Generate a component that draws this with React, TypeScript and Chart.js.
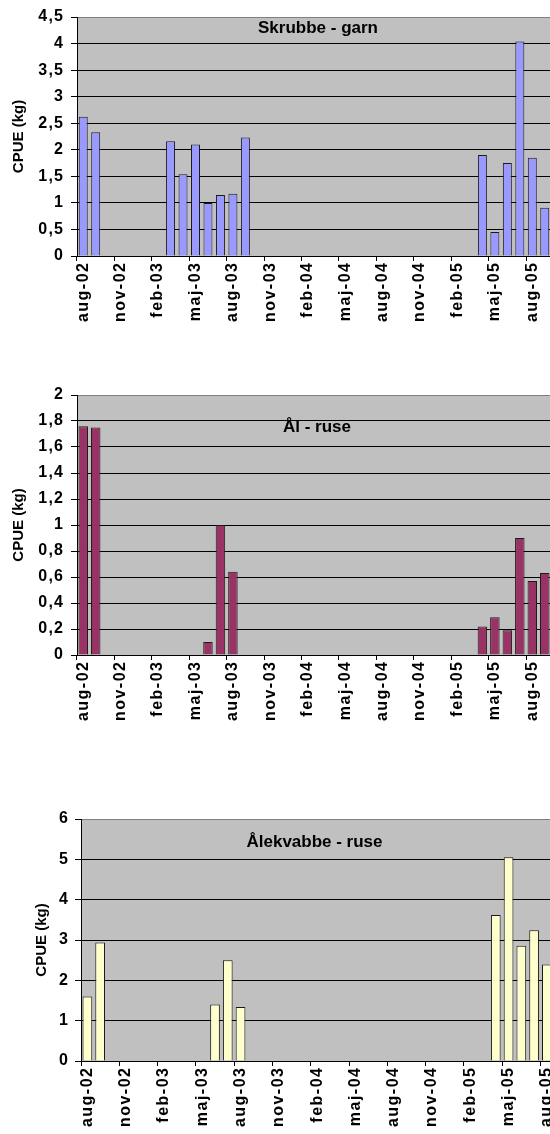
import React, { useEffect, useRef } from "react";
import { Chart, registerables } from "chart.js";

Chart.register(...registerables);

// Monthly categories (Danish month abbreviations)
const months = [
  "aug-02", "sep-02", "okt-02", "nov-02", "dec-02", "jan-03", "feb-03", "mar-03",
  "apr-03", "maj-03", "jun-03", "jul-03", "aug-03", "sep-03", "okt-03", "nov-03",
  "dec-03", "jan-04", "feb-04", "mar-04", "apr-04", "maj-04", "jun-04", "jul-04",
  "aug-04", "sep-04", "okt-04", "nov-04", "dec-04", "jan-05", "feb-05", "mar-05",
  "apr-05", "maj-05", "jun-05", "jul-05", "aug-05", "sep-05",
];
const labelEvery = 3;

const skrubbeGarn = [
  2.62, 2.33, null, null, null, null, null, 2.16,
  1.54, 2.1, 1.0, 1.15, 1.17, 2.23, null, null,
  null, null, null, null, null, null, null, null,
  null, null, null, null, null, null, null, null,
  1.9, 0.45, 1.75, 4.04, 1.85, 0.91,
];

const aalRuse = [
  1.76, 1.75, null, null, null, null, null, null,
  null, null, 0.1, 1.0, 0.64, null, null, null,
  null, null, null, null, null, null, null, null,
  null, null, null, null, null, null, null, null,
  0.22, 0.29, 0.19, 0.9, 0.57, 0.63,
];

const aalekvabbeRuse = [
  1.6, 2.94, null, null, null, null, null, null,
  null, null, 1.4, 2.5, 1.34, null, null, null,
  null, null, null, null, null, null, null, null,
  null, null, null, null, null, null, null, null,
  3.62, 5.05, 2.86, 3.24, 2.39, null,
];

const yAxisTitle = "CPUE (kg)";
const FONT = "'Liberation Sans', Arial, sans-serif";

function fmt(v: number) {
  return String(Math.round(v * 10) / 10).replace(".", ",");
}

const bgPlugin = {
  id: "plotBg",
  beforeDraw(chart: any) {
    const { ctx, chartArea } = chart;
    ctx.save();
    ctx.fillStyle = "#C0C0C0";
    ctx.fillRect(chartArea.left, chartArea.top, chartArea.right - chartArea.left, chartArea.bottom - chartArea.top);
    ctx.restore();
  },
};

const insideTitlePlugin = {
  id: "insideTitle",
  afterDatasetsDraw(chart: any, _args: any, opts: any) {
    const { ctx, chartArea } = chart;
    ctx.save();
    ctx.font = `bold ${opts.size}px ${FONT}`;
    ctx.fillStyle = "#000";
    ctx.textAlign = "center";
    ctx.textBaseline = "middle";
    ctx.fillText(opts.text, (chartArea.left + chartArea.right) / 2 + opts.dx, chartArea.top + opts.dy);
    ctx.restore();
  },
};

// Draws the tick labels (wide bold text) at the positions given by the chart's scales.
const tickLabelPlugin = {
  id: "wideTickLabels",
  afterDraw(chart: any, _args: any, o: any) {
    const { ctx } = chart;
    const xs = chart.scales.x;
    const ys = chart.scales.y;
    ctx.save();
    ctx.fillStyle = "#000";
    ctx.font = `bold ${o.size}px ${FONT}`;
    ctx.letterSpacing = `${o.spacingY}px`;
    ctx.textAlign = "right";
    ctx.textBaseline = "middle";
    ys.ticks.forEach((t: any, i: number) => {
      ctx.fillText(fmt(t.value), ys.right - o.yTick - o.yPad + o.spacingY, ys.getPixelForTick(i));
    });
    ctx.letterSpacing = `${o.spacingX}px`;
    xs.ticks.forEach((_t: any, i: number) => {
      if (i % labelEvery !== 0) return;
      const x = xs.getPixelForTick(i);
      ctx.save();
      ctx.translate(x, xs.top + o.xTick + o.xPad);
      ctx.rotate(-Math.PI / 2);
      ctx.textAlign = "right";
      ctx.textBaseline = "middle";
      ctx.fillText(months[i], o.spacingX, 0);
      ctx.restore();
    });
    ctx.restore();
  },
};

type Props = {
  top: number;
  width: number;
  height: number;
  padTop: number;
  yWidth: number;
  xHeight: number;
  values: (number | null)[];
  color: string;
  barPct: number;
  title: string;
  titleDx: number;
  titleDy: number;
  yMax: number;
  yStep: number;
  yTitlePad: number;
  yLabelPad: number;
};

function CpueChart(p: Props) {
  const ref = useRef<HTMLCanvasElement | null>(null);
  useEffect(() => {
    const chart = new Chart(ref.current as HTMLCanvasElement, {
      type: "bar",
      data: {
        labels: months,
        datasets: [
          {
            data: p.values as any,
            backgroundColor: p.color,
            borderColor: "#1a1a1a",
            borderWidth: 1,
            barPercentage: p.barPct,
            categoryPercentage: 1,
          },
        ],
      },
      options: {
        responsive: false,
        animation: false,
        layout: { padding: { top: p.padTop, left: 0, right: 0, bottom: 0 }, autoPadding: false } as any,
        plugins: {
          legend: { display: false },
          tooltip: { enabled: false },
          insideTitle: { text: p.title, dx: p.titleDx, dy: p.titleDy, size: 17 },
          wideTickLabels: { size: 16, spacingX: 1.5, spacingY: 1.2, xTick: 5, xPad: 2, yTick: 6, yPad: p.yLabelPad },
        } as any,
        scales: {
          x: {
            offset: true,
            grid: {
              offset: true,
              drawOnChartArea: false,
              drawTicks: true,
              tickLength: 5,
              lineWidth: 1,
              color: (c: any) => (c.index !== undefined && c.index % labelEvery === 0 ? "#000" : "rgba(0,0,0,0)"),
            },
            border: { display: true, color: "#000" },
            ticks: {
              autoSkip: false,
              maxRotation: 90,
              minRotation: 90,
              padding: 2,
              color: "rgba(0,0,0,0)",
              font: { family: FONT, weight: "bold", size: 15 },
              callback: (_v: any, i: number) => (i % labelEvery === 0 ? months[i] : ""),
            },
            afterFit: (s: any) => {
              s.height = p.xHeight;
              s.paddingLeft = 0;
              s.paddingRight = 0;
              s.paddingTop = 0;
              s.paddingBottom = 0;
            },
          },
          y: {
            min: 0,
            max: p.yMax,
            ticks: {
              stepSize: p.yStep,
              padding: p.yLabelPad,
              color: "rgba(0,0,0,0)",
              font: { family: FONT, weight: "bold", size: 15 },
              callback: (v: any) => fmt(Number(v)),
            },
            grid: {
              color: (c: any) => (c.tick && c.tick.value >= p.yMax - 1e-9 ? "#808080" : "#000"),
              tickColor: "#000",
              tickLength: 6,
              lineWidth: 1,
            },
            border: { display: true, color: "#000" },
            title: {
              display: true,
              text: yAxisTitle,
              color: "#000",
              font: { family: FONT, weight: "bold", size: 15 },
              padding: p.yTitlePad,
            },
            afterFit: (s: any) => {
              s.width = p.yWidth;
              s.paddingLeft = 0;
              s.paddingRight = 0;
              s.paddingTop = 0;
              s.paddingBottom = 0;
            },
          },
        } as any,
      },
      plugins: [bgPlugin, insideTitlePlugin, tickLabelPlugin],
    });
    return () => chart.destroy();
  }, []);
  return (
    <div style={{ position: "absolute", left: 0, top: p.top, width: p.width, height: p.height }}>
      <canvas ref={ref} width={p.width} height={p.height} style={{ display: "block" }} />
    </div>
  );
}

export default function App() {
  return (
    <div style={{ position: "absolute", left: 0, top: 0, width: 550, height: 1134, overflow: "hidden", background: "#fff" }}>
      <CpueChart
        top={0} width={551} height={340} padTop={17} yWidth={77} xHeight={84}
        values={skrubbeGarn} color="#9999FF" barPct={0.72}
        title="Skrubbe - garn" titleDx={4} titleDy={11.5}
        yMax={4.5} yStep={0.5} yTitlePad={10} yLabelPad={8}
      />
      <CpueChart
        top={380} width={551} height={360} padTop={15} yWidth={77} xHeight={85}
        values={aalRuse} color="#993366" barPct={0.76}
        title="Ål - ruse" titleDx={3} titleDy={32.5}
        yMax={2} yStep={0.2} yTitlePad={10} yLabelPad={8}
      />
      <CpueChart
        top={790} width={566} height={344} padTop={29} yWidth={81} xHeight={73}
        values={aalekvabbeRuse} color="#FFFFCC" barPct={0.76}
        title="Ålekvabbe - ruse" titleDx={-9} titleDy={23}
        yMax={6} yStep={1} yTitlePad={33} yLabelPad={7}
      />
    </div>
  );
}
